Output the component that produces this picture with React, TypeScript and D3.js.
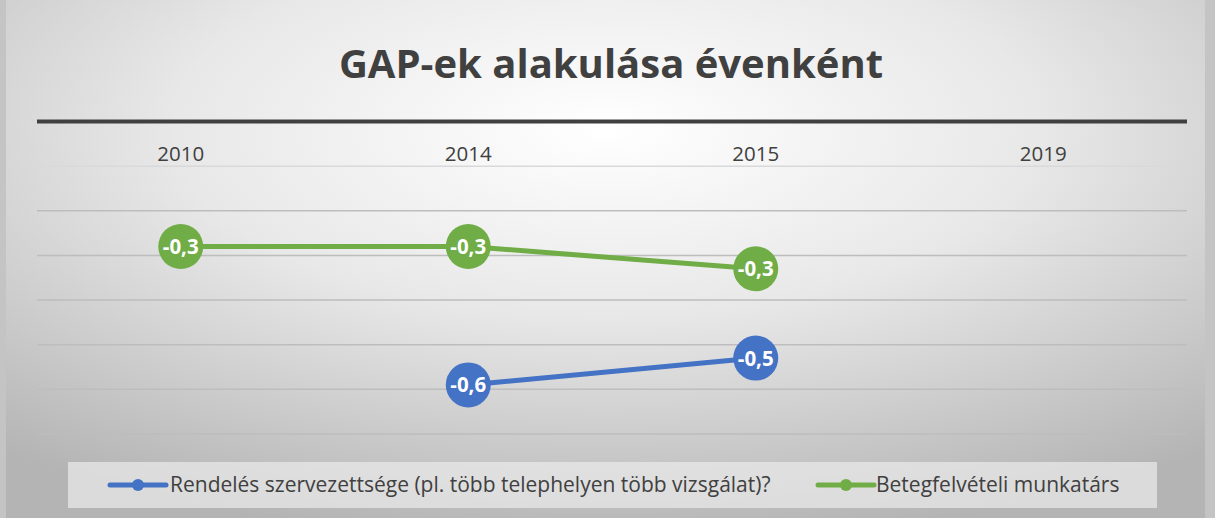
import React from "react";
import * as d3 from "d3";

const categories = ["2010", "2014", "2015", "2019"];
const seriesNames = [
  "Rendelés szervezettsége (pl. több telephelyen több vizsgálat)?",
  "Betegfelvételi munkatárs",
];
const blueValues: (number | null)[] = [null, -0.59, -0.53, null];
const greenValues: (number | null)[] = [-0.28, -0.28, -0.33, null];
const yTicks = [0, -0.1, -0.2, -0.3, -0.4, -0.5, -0.6, -0.7];
const colors = ["#4472C4", "#70AD47"];

const W = 1215;
const H = 518;
const FONT = "'Open Sans', 'Liberation Sans', sans-serif";

export default function App() {
  const x = d3.scaleBand<string>().domain(categories).range([37, 1187]);
  const y = d3.scaleLinear().domain([0, -0.7]).range([121.5, 434]);
  const fmt = (v: number) => d3.format(".1f")(v).replace(".", ",").replace("−", "-");

  const series = [blueValues, greenValues];
  const line = d3
    .line<number | null>()
    .defined((d) => d !== null)
    .x((_, i) => (x(categories[i]) as number) + x.bandwidth() / 2)
    .y((d) => y(d as number));

  return (
    <svg
      width={W}
      height={H}
      style={{ position: "absolute", left: 0, top: 0, display: "block" }}
    >
      <defs>
        <radialGradient id="bg" cx="50%" cy="25%" r="80%" fx="50%" fy="25%">
          <stop offset="0%" stopColor="#ffffff" />
          <stop offset="45%" stopColor="#e8e8e8" />
          <stop offset="100%" stopColor="#b4b4b4" />
        </radialGradient>
      </defs>
      <rect x={0} y={0} width={W} height={H} fill="#c4c4c4" />
      <rect x={6} y={0} width={1199} height={H} fill="url(#bg)" />

      <text
        x={611}
        y={78}
        textAnchor="middle"
        fontFamily={FONT}
        fontWeight={700}
        fontSize={40}
        fill="#404040"
      >
        GAP-ek alakulása évenként
      </text>

      {yTicks.slice(1).map((t, i) => (
        <line
          key={t}
          x1={37}
          x2={1187}
          y1={y(t)}
          y2={y(t)}
          stroke={i === 0 ? "#d9d9d9" : "#bdbdbd"}
          strokeWidth={1.5}
        />
      ))}
      <line x1={37} x2={1187} y1={y(0)} y2={y(0)} stroke="#404040" strokeWidth={4} />

      {categories.map((c) => (
        <text
          key={c}
          x={(x(c) as number) + x.bandwidth() / 2}
          y={161}
          textAnchor="middle"
          fontFamily={FONT}
          fontSize={20.5}
          fill="#404040"
        >
          {c}
        </text>
      ))}

      {series.map((vals, si) => (
        <g key={si}>
          <path
            d={line(vals) || ""}
            fill="none"
            stroke={colors[si]}
            strokeWidth={5}
            strokeLinecap="round"
          />
          {vals.map((v, i) =>
            v === null ? null : (
              <g key={i}>
                <circle
                  cx={(x(categories[i]) as number) + x.bandwidth() / 2}
                  cy={y(v)}
                  r={22.5}
                  fill={colors[si]}
                />
                <text
                  x={(x(categories[i]) as number) + x.bandwidth() / 2}
                  y={y(v) + 7.5}
                  textAnchor="middle"
                  fontFamily={FONT}
                  fontWeight={700}
                  fontSize={20.5}
                  fill="#ffffff"
                >
                  {fmt(v)}
                </text>
              </g>
            )
          )}
        </g>
      ))}

      <rect x={68} y={462} width={1089} height={46} fill="#e8e8e8" fillOpacity={0.75} />
      {[
        { lx: 110, tx: 170 },
        { lx: 818, tx: 876 },
      ].map((p, si) => (
        <g key={si}>
          <line
            x1={p.lx}
            x2={p.lx + 56}
            y1={485}
            y2={485}
            stroke={colors[si]}
            strokeWidth={5}
            strokeLinecap="round"
          />
          <circle cx={p.lx + 28} cy={485} r={6} fill={colors[si]} />
          <text x={p.tx} y={492} fontFamily={FONT} fontSize={21} fill="#404040">
            {seriesNames[si]}
          </text>
        </g>
      ))}
    </svg>
  );
}
